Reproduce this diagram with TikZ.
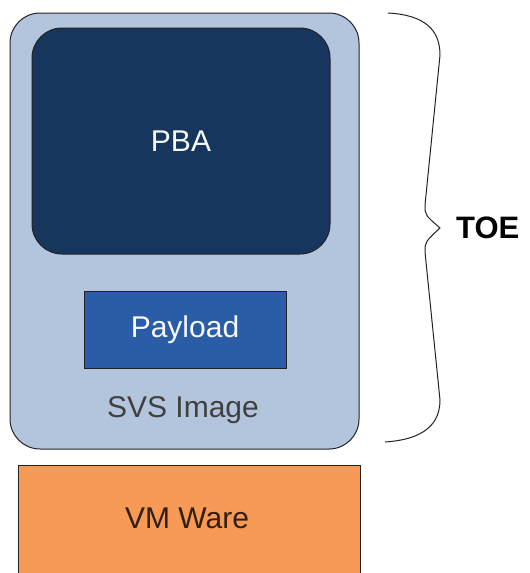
\documentclass[tikz,border=0pt]{standalone}
\usepackage{fontspec}
\setmainfont{Liberation Sans}
\usetikzlibrary{positioning}
\definecolor{imgblue}{HTML}{B3C5DC}
\definecolor{pbanavy}{HTML}{17365D}
\definecolor{loadblue}{HTML}{2A5CA8}
\definecolor{vmorange}{HTML}{F79A55}
\definecolor{edgegray}{HTML}{222222}
\tikzstyle{layer} = [draw=edgegray, line width=1pt, inner sep=0pt, font=\fontsize{30}{30}\selectfont]
\tikzstyle{roundlayer} = [layer, rounded corners=30pt]

\begin{document}
\begin{tikzpicture}[x=1pt, y=-1pt]
\useasboundingbox (0,0) rectangle (530,573);

% Define nodes
\node[roundlayer, fill=imgblue, minimum width=349pt, minimum height=436pt] (svs) at (184.5,231) {};
\node[roundlayer, fill=pbanavy, text=white!90!imgblue, minimum width=298pt, minimum height=226pt] (pba) at (181,141) {PBA};
\node[layer, fill=loadblue, text=white!90!imgblue, minimum width=202pt, minimum height=77pt] (load) at (185,329.5) {Payload};
\node[font=\fontsize{30}{30}\selectfont, text=black!75] (svslabel) at (183,410) {SVS Image};
\node[layer, fill=vmorange, text=black!80!vmorange, minimum width=342pt, minimum height=140pt, anchor=north west] (vm) at (18,465) {};
\node[font=\fontsize{30}{30}\selectfont, text=black!80!vmorange] (vmlabel) at (187,518) {VM Ware};

% Brace
\coordinate (btop) at (388,13);
\coordinate (btip) at (440,228);
\coordinate (bbot) at (385,442);
\draw[edgegray, line width=1pt] (btop) .. controls (425,15) and (440,30) .. (440,55)
  -- (425,205) .. controls (425,215) .. (btip)
  .. controls (425,242) .. (425,252) -- (440,400)
  .. controls (440,430) and (415,440) .. (bbot);
\node[font=\bfseries\fontsize{31}{31}\selectfont, right=16pt of btip, inner sep=0pt] (toe) {TOE};
\end{tikzpicture}
\end{document}
